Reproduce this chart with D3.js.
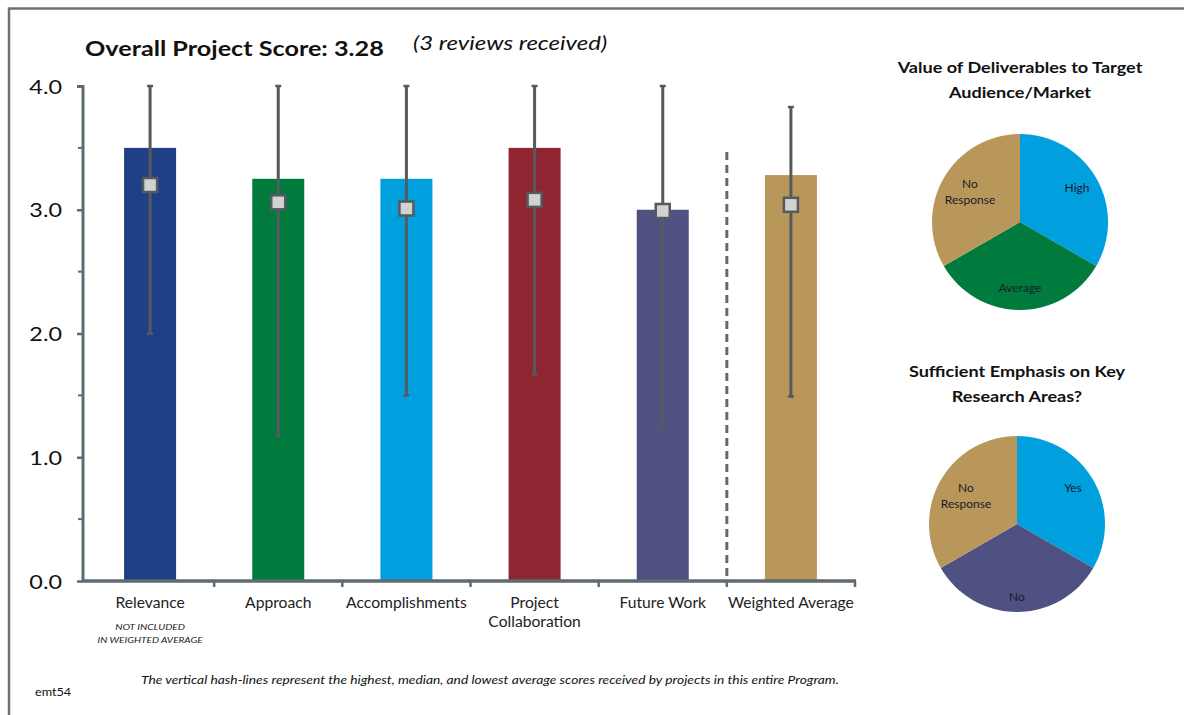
<!DOCTYPE html>
<html><head><meta charset="utf-8">
<script src="https://cdn.jsdelivr.net/npm/d3@7"></script>
<style>body{margin:0;background:#fff}svg{display:block}text{font-family:Lato,"Open Sans",sans-serif}</style>
</head><body><svg id="c" width="1184" height="715"></svg>
<script>
const categories = ["Relevance","Approach","Accomplishments","Project Collaboration","Future Work","Weighted Average"];
const scores = [3.5, 3.25, 3.25, 3.5, 3.0, 3.28];
const highest = [4.0, 4.0, 4.0, 4.0, 4.0, 3.83];
const median = [3.2, 3.06, 3.01, 3.08, 2.99, 3.04];
const lowest = [2.0, 1.17, 1.5, 1.67, 1.24, 1.49];
const barColors = ["#1f3f87","#007a3d","#00a0df","#8e2530","#4f5183","#b9975b"];
const yTicks = [0, 1, 2, 3, 4];
const pie1Labels = ["High","Average","No Response"];
const pie1Values = [1, 1, 1];
const pie1Colors = ["#00a0df","#007a3d","#b9975b"];
const pie2Labels = ["Yes","No","No Response"];
const pie2Values = [1, 1, 1];
const pie2Colors = ["#00a0df","#4f5183","#b9975b"];

const svg = d3.select("#c");
// helper: text stretched horizontally to mimic the reference's wide rendering
function txt(parent, x, y, s, o) {
  o = o || {};
  const t = parent.append("text")
    .attr("transform", `translate(${x},${y}) scale(${o.sx || 1},1)`)
    .attr("text-anchor", o.anchor || "start")
    .attr("font-size", o.size || 12)
    .attr("fill", o.fill || "#111")
    .text(s);
  if (o.bold) t.attr("font-weight", "bold");
  if (o.italic) t.attr("font-style", "italic");
  return t;
}

// frame
svg.append("path").attr("d","M9,715 V8.5 H1184").attr("fill","none").attr("stroke","#6b7378").attr("stroke-width",2.5);

const x = d3.scaleBand().domain(categories).range([86,855]).paddingInner(0).paddingOuter(0);
const y = d3.scaleLinear().domain([0,4]).range([581,86]);
const axisColor = "#5f6a72";

// bars
const bw = 52;
svg.selectAll("rect.bar").data(categories).join("rect")
  .attr("x", d => x(d) + x.bandwidth()/2 - bw/2)
  .attr("y", (d,i) => y(scores[i]))
  .attr("width", bw)
  .attr("height", (d,i) => y(0) - y(scores[i]))
  .attr("fill", (d,i) => barColors[i]);

// y axis
const yAxis = d3.axisLeft(y).tickValues(yTicks).tickFormat(d3.format(".1f")).tickSize(6).tickPadding(15);
const gy = svg.append("g").attr("transform","translate(83,0)").call(yAxis);
gy.select(".domain").attr("stroke",axisColor).attr("stroke-width",3).attr("d","M-6,86.5H0V581");
gy.selectAll(".tick line").attr("stroke",axisColor).attr("stroke-width",2.5);
gy.selectAll(".tick text").attr("font-size",20).attr("fill","#111").attr("dy","0.36em")
  .attr("transform","scale(1.17,1)").attr("x",-21/1.17);
const minor = d3.scaleLinear().domain([0,4]).ticks(8).filter(v => v % 1 !== 0);
gy.selectAll("line.minor").data(minor).join("line").attr("x1",-5).attr("x2",0)
  .attr("y1",d=>y(d)).attr("y2",d=>y(d)).attr("stroke",axisColor).attr("stroke-width",2);

// x axis
svg.append("line").attr("x1",82).attr("x2",856).attr("y1",581).attr("y2",581).attr("stroke",axisColor).attr("stroke-width",3.5);
const bounds = categories.map(c => x(c)).concat([x.range()[1]]);
svg.selectAll("line.xt").data(bounds.slice(1)).join("line")
  .attr("x1",d=>d).attr("x2",d=>d).attr("y1",581).attr("y2",587).attr("stroke",axisColor).attr("stroke-width",2.5);

// category labels
categories.forEach((c,i) => {
  const cx = x(c) + x.bandwidth()/2;
  const lines = c === "Project Collaboration" ? ["Project","Collaboration"] : [c];
  lines.forEach((l,j) => txt(svg, cx, 608+j*19, l, {anchor:"middle", size:14.5, sx:1.08, fill:"#222"}));
});
const c0 = x(categories[0]) + x.bandwidth()/2;
txt(svg, c0, 630, "NOT INCLUDED", {anchor:"middle", size:8.5, sx:1.2, italic:true, fill:"#222"});
txt(svg, c0, 643, "IN WEIGHTED  AVERAGE", {anchor:"middle", size:8.5, sx:1.18, italic:true, fill:"#222"});

// dashed separator
svg.append("line").attr("x1",bounds[5]).attr("x2",bounds[5]).attr("y1",152).attr("y2",581)
  .attr("stroke",axisColor).attr("stroke-width",3).attr("stroke-dasharray","8,5");

// error bars
const ec = "#555a5e";
categories.forEach((c,i) => {
  const cx = x(c) + x.bandwidth()/2;
  svg.append("line").attr("x1",cx).attr("x2",cx).attr("y1",y(highest[i])).attr("y2",y(lowest[i])).attr("stroke",ec).attr("stroke-width",3);
  [highest[i], lowest[i]].forEach(v => svg.append("line").attr("x1",cx-3).attr("x2",cx+3).attr("y1",y(v)).attr("y2",y(v)).attr("stroke",ec).attr("stroke-width",2.5));
  svg.append("rect").attr("x",cx-7).attr("y",y(median[i])-7).attr("width",14).attr("height",14)
    .attr("fill","#d2d2d2").attr("stroke",ec).attr("stroke-width",2.5);
});

// titles
txt(svg, 85, 56, "Overall Project Score: 3.28", {size:21, bold:true, sx:1.2});
txt(svg, 413, 50, "(3 reviews received)", {size:20, italic:true, sx:1.2});

// footnote
txt(svg, 490, 684, "The vertical hash-lines represent the highest, median, and lowest average scores received by projects in this entire Program.",
  {anchor:"middle", size:12, italic:true, sx:1.15});
txt(svg, 35, 696, "emt54", {size:11, sx:1.15});

// pies
function drawPie(cx, cy, r, labels, values, colors, title, titleY, labelPos) {
  const g = svg.append("g").attr("transform",`translate(${cx},${cy})`);
  const arcs = d3.pie().sort(null)(values);
  const arc = d3.arc().innerRadius(0).outerRadius(r);
  g.selectAll("path").data(arcs).join("path").attr("d",arc).attr("fill",(d,i)=>colors[i]);
  title.forEach((t,j) => txt(svg, cx, titleY+j*25, t, {anchor:"middle", size:16, bold:true, sx:1.13}));
  labels.forEach((l,i) => {
    const p = labelPos[i];
    const lines = l === "No Response" ? ["No","Response"] : [l];
    lines.forEach((s,j) => txt(g, p[0], p[1]+j*16, s, {anchor:"middle", size:12, fill:"#1a1a2a"}));
  });
}
drawPie(1020, 222, 88, pie1Labels, pie1Values, pie1Colors, ["Value of Deliverables to Target","Audience/Market"], 73,
  [[57,-30],[0,70],[-50,-34]]);
drawPie(1017, 524, 88, pie2Labels, pie2Values, pie2Colors, ["Sufficient Emphasis on Key","Research Areas?"], 377,
  [[56,-32],[0,77],[-51,-32]]);
</script></body></html>
